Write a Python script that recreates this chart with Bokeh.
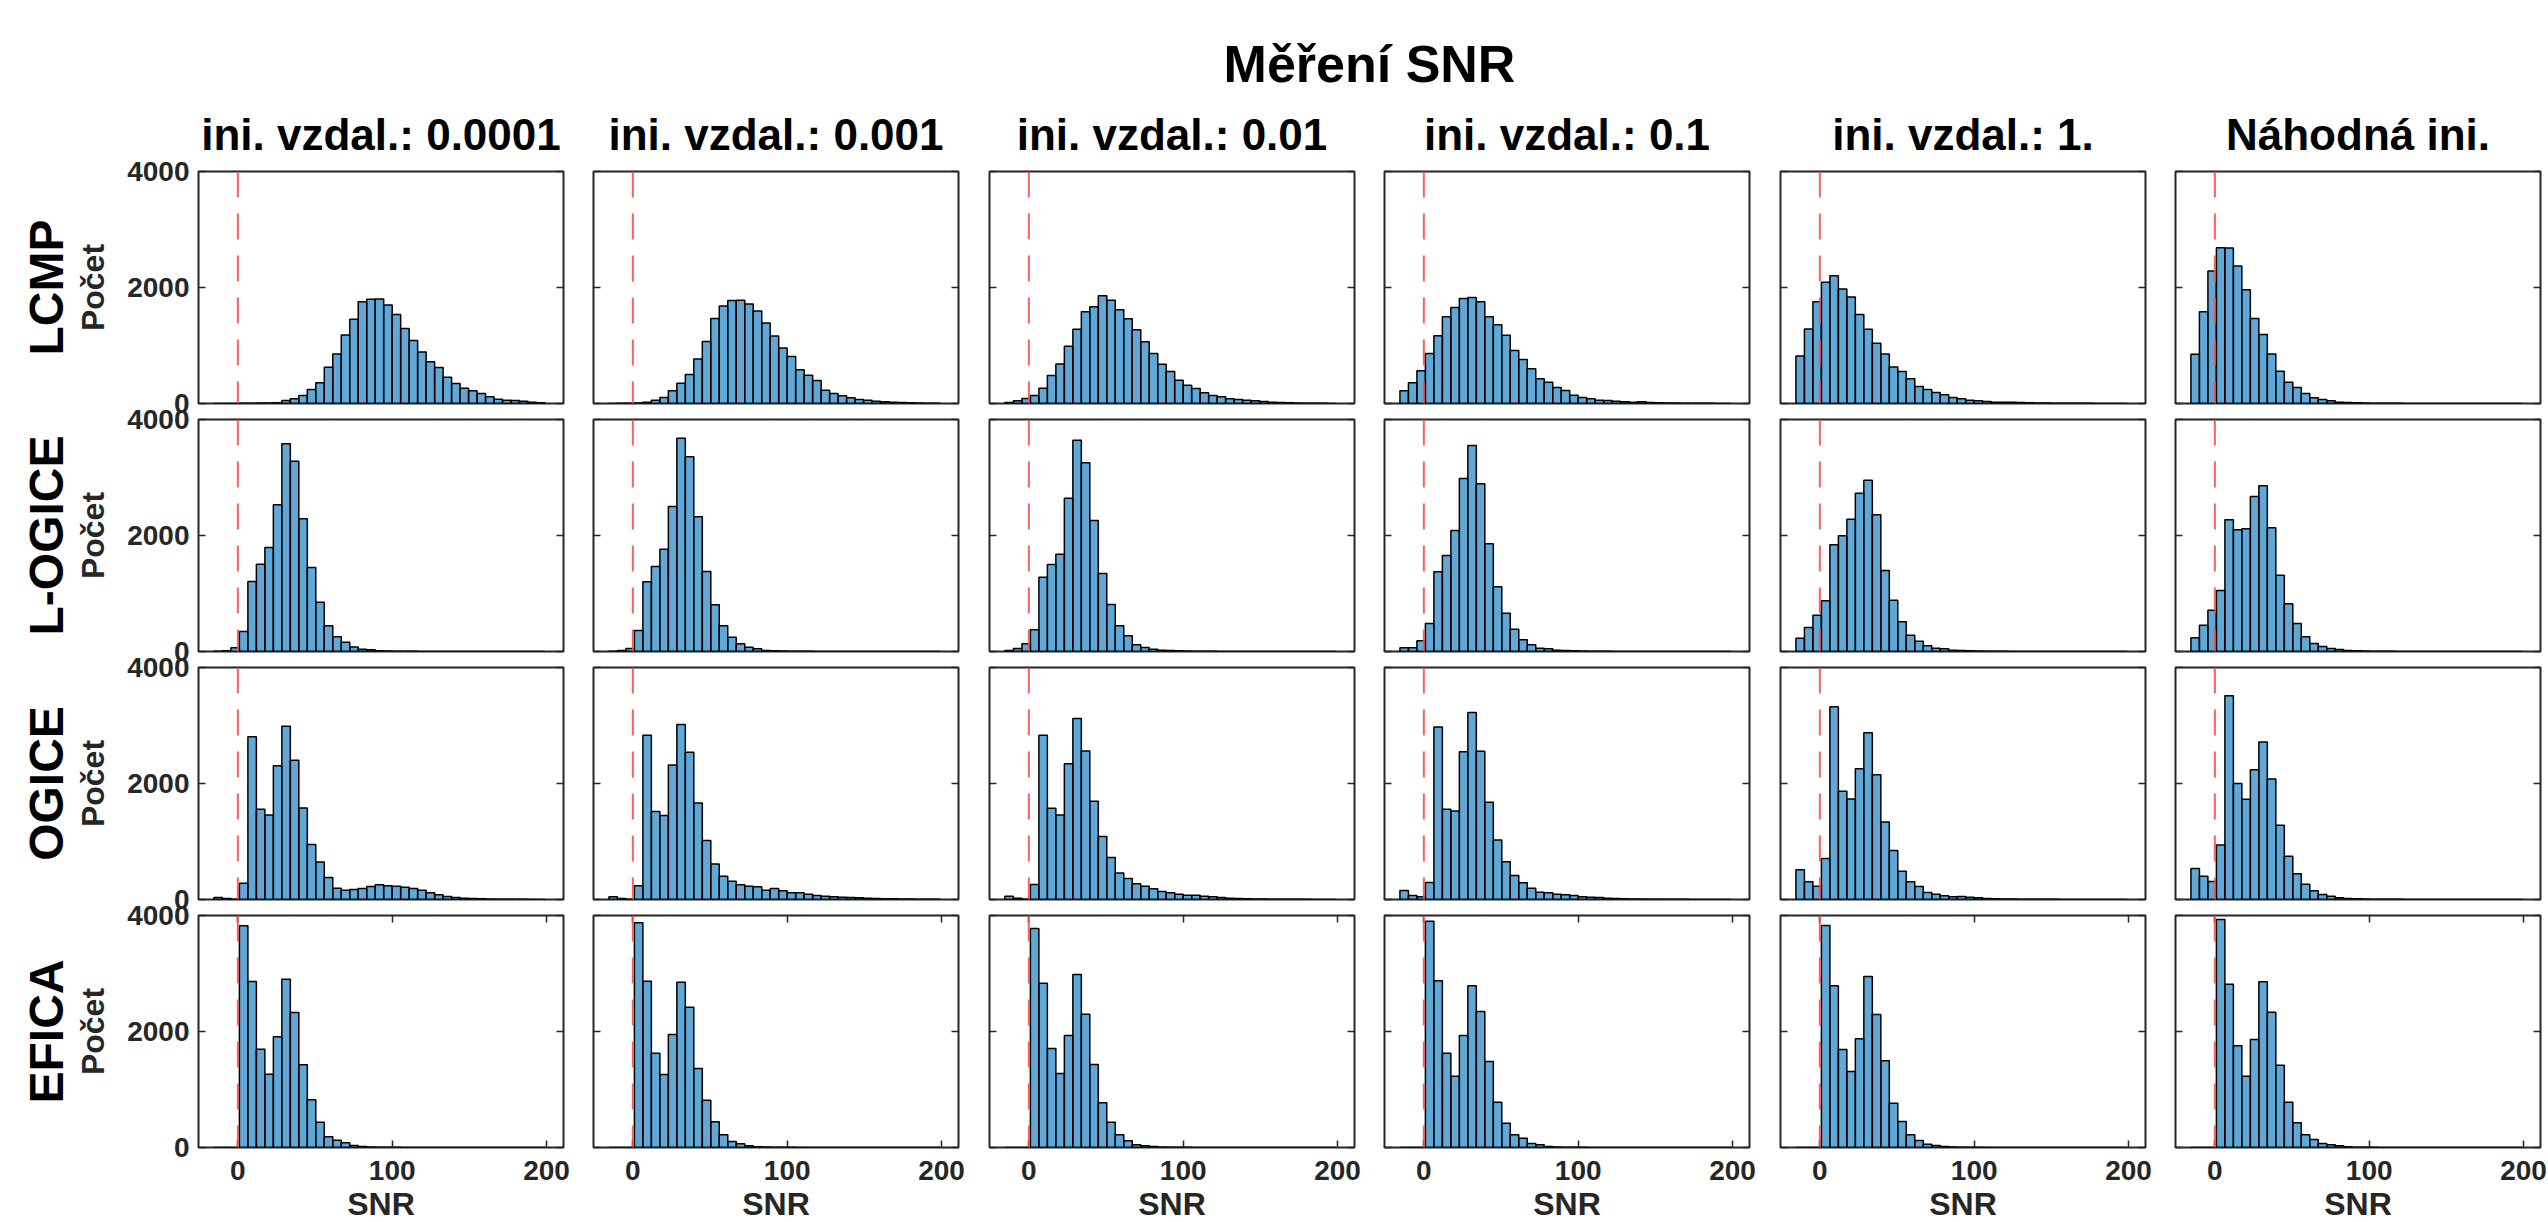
import math
from bokeh.plotting import figure
from bokeh.models import Range1d, FixedTicker, Span, LinearAxis, ColumnDataSource
from bokeh.layouts import column, row
from bokeh.embed import file_html
from bokeh.resources import INLINE

# ---------------- data ----------------
suptitle = "Měření SNR"
col_titles = ["ini. vzdal.: 0.0001", "ini. vzdal.: 0.001", "ini. vzdal.: 0.01",
              "ini. vzdal.: 0.1", "ini. vzdal.: 1.", "Náhodná ini."]
row_names = ["LCMP", "L-OGICE", "OGICE", "EFICA"]
y_label = "Počet"
x_label = "SNR"
x_ticks = [0, 100, 200]
y_ticks = [0, 2000, 4000]
threshold = 0
bin_start = -15.5
bin_width = 5.5

lcmp_c0 = [0, 0, 2, 3, 5, 8, 10, 15, 52, 80, 138, 241, 356, 626, 855, 1182, 1452, 1756, 1797, 1802,
           1699, 1533, 1292, 1085, 890, 718, 620, 453, 344, 264, 218, 172, 115, 75, 57, 52, 40, 23, 11]
lcmp_c1 = [2, 3, 5, 10, 23, 57, 103, 218, 350, 499, 769, 1068, 1464, 1683, 1774, 1780, 1716, 1596, 1389, 1165,
           959, 809, 580, 488, 396, 230, 172, 132, 98, 69, 57, 40, 29, 23, 17, 12, 8, 5, 3]
lcmp_c2 = [17, 46, 86, 138, 264, 482, 683, 988, 1281, 1580, 1666, 1856, 1782, 1615, 1460, 1270, 1063, 862, 678, 552,
           402, 316, 258, 184, 138, 115, 80, 69, 57, 46, 34, 23, 17, 12, 10, 6, 4, 3, 2]
lcmp_c3 = [218, 356, 563, 862, 1166, 1494, 1655, 1810, 1828, 1753, 1494, 1356, 1178, 913, 758, 597, 425, 367, 276, 224,
           144, 103, 80, 57, 52, 40, 29, 23, 29, 17, 12, 10, 8, 6, 5, 4, 3, 2, 2]
lcmp_c4 = [821, 1286, 1756, 2089, 2204, 1975, 1837, 1533, 1281, 1039, 855, 631, 551, 425, 293, 241, 189, 149, 103, 80,
           57, 46, 34, 23, 23, 23, 17, 12, 10, 8, 6, 5, 4, 3, 3, 2, 2, 2, 2]
lcmp_c5 = [850, 1584, 2285, 2686, 2680, 2370, 1963, 1464, 1188, 855, 557, 367, 276, 172, 98, 69, 46, 23, 17, 12,
           8, 6, 5, 4, 3, 2, 2, 1, 1, 1, 1, 1, 1, 1, 1, 1, 0, 0, 0]

logice_c0 = [3, 15, 63, 345, 1207, 1506, 1793, 2529, 3580, 3282, 2287, 1448, 851, 443, 253, 161, 78, 40, 29, 12,
             8, 5, 4, 3, 2, 2, 1, 1, 1, 1, 1, 1, 1, 1, 0, 0, 0, 0, 0]
logice_c1 = [3, 17, 52, 362, 1201, 1465, 1765, 2500, 3678, 3356, 2322, 1379, 805, 443, 247, 132, 75, 46, 17, 12,
             8, 5, 4, 3, 2, 2, 1, 1, 1, 1, 1, 1, 1, 1, 0, 0, 0, 0, 0]
logice_c2 = [17, 52, 132, 374, 1282, 1500, 1678, 2644, 3644, 3253, 2259, 1345, 810, 443, 270, 115, 69, 40, 23, 17,
             12, 8, 6, 5, 3, 2, 2, 1, 1, 1, 1, 1, 1, 1, 0, 0, 0, 0, 0]
logice_c3 = [63, 63, 184, 483, 1374, 1655, 2086, 2983, 3552, 2891, 1856, 1115, 661, 385, 201, 115, 57, 46, 23, 17,
             12, 8, 6, 4, 3, 2, 2, 1, 1, 1, 1, 1, 1, 1, 0, 0, 0, 0, 0]
logice_c4 = [230, 414, 626, 873, 1839, 1994, 2282, 2730, 2954, 2356, 1397, 885, 511, 282, 178, 98, 57, 46, 23, 17,
             12, 8, 6, 4, 3, 2, 2, 1, 1, 1, 1, 1, 1, 1, 0, 0, 0, 0, 0]
logice_c5 = [236, 454, 713, 1052, 2270, 2098, 2115, 2672, 2856, 2132, 1316, 822, 483, 253, 138, 86, 52, 34, 17, 12,
             8, 6, 4, 3, 2, 2, 1, 1, 1, 1, 1, 1, 1, 1, 0, 0, 0, 0, 0]

ogice_c0 = [34, 17, 6, 282, 2807, 1555, 1458, 2307, 2985, 2399, 1578, 950, 645, 380, 195, 161, 172, 190, 224, 253,
            236, 230, 213, 190, 161, 115, 80, 52, 34, 23, 17, 12, 8, 6, 5, 4, 3, 2, 2]
ogice_c1 = [46, 17, 6, 235, 2830, 1516, 1447, 2319, 3019, 2537, 1665, 1016, 614, 402, 316, 253, 230, 218, 161, 189,
            149, 115, 115, 92, 69, 57, 46, 40, 34, 29, 23, 17, 14, 12, 10, 8, 6, 5, 4]
ogice_c2 = [57, 23, 6, 258, 2830, 1573, 1458, 2342, 3122, 2560, 1693, 1085, 723, 459, 362, 270, 230, 184, 138, 115,
            92, 75, 75, 57, 46, 34, 23, 17, 12, 10, 8, 6, 5, 4, 3, 3, 2, 2, 2]
ogice_c3 = [155, 69, 46, 293, 2973, 1556, 1527, 2549, 3226, 2554, 1676, 1027, 649, 413, 287, 195, 126, 115, 92, 80,
            69, 46, 40, 34, 23, 17, 12, 10, 8, 6, 5, 4, 3, 3, 2, 2, 2, 2, 2]
ogice_c4 = [511, 304, 230, 706, 3323, 1866, 1733, 2256, 2876, 2152, 1337, 844, 488, 304, 224, 121, 92, 63, 46, 52,
            40, 29, 17, 12, 10, 8, 6, 5, 4, 3, 3, 2, 2, 2, 1, 1, 1, 1, 1]
ogice_c5 = [534, 402, 310, 941, 3513, 1998, 1728, 2239, 2715, 2078, 1280, 746, 442, 264, 149, 86, 57, 29, 17, 12,
            8, 6, 5, 4, 3, 2, 2, 1, 1, 1, 1, 1, 1, 1, 1, 1, 1, 1, 1]

efica_c0 = [0, 0, 0, 3822, 2862, 1695, 1264, 1908, 2902, 2327, 1425, 822, 437, 184, 126, 80, 34, 17, 10, 6,
            4, 3, 2, 1, 1, 1, 1, 0, 0, 0, 0, 0, 0, 0, 0, 0, 0, 0, 0]
efica_c1 = [0, 0, 0, 3874, 2868, 1626, 1259, 1948, 2851, 2420, 1362, 816, 443, 218, 103, 63, 29, 12, 8, 6,
            4, 3, 2, 1, 1, 1, 1, 0, 0, 0, 0, 0, 0, 0, 0, 0, 0, 0, 0]
efica_c2 = [0, 0, 0, 3776, 2833, 1707, 1276, 1931, 2983, 2299, 1431, 770, 437, 218, 115, 46, 29, 17, 10, 6,
            4, 3, 2, 1, 1, 1, 1, 0, 0, 0, 0, 0, 0, 0, 0, 0, 0, 0, 0]
efica_c3 = [0, 0, 0, 3902, 2873, 1626, 1230, 1931, 2787, 2345, 1483, 782, 420, 218, 161, 69, 46, 17, 10, 6,
            4, 3, 2, 1, 1, 1, 1, 0, 0, 0, 0, 0, 0, 0, 0, 0, 0, 0, 0]
efica_c4 = [0, 0, 0, 3828, 2787, 1690, 1310, 1874, 2948, 2293, 1494, 764, 448, 218, 121, 57, 34, 17, 10, 6,
            4, 3, 2, 1, 1, 1, 1, 0, 0, 0, 0, 0, 0, 0, 0, 0, 0, 0, 0]
efica_c5 = [0, 0, 0, 3931, 2816, 1753, 1230, 1862, 2856, 2333, 1420, 782, 425, 218, 138, 69, 46, 29, 12, 6,
            4, 3, 2, 1, 1, 1, 1, 0, 0, 0, 0, 0, 0, 0, 0, 0, 0, 0, 0]

counts = [
    [lcmp_c0, lcmp_c1, lcmp_c2, lcmp_c3, lcmp_c4, lcmp_c5],
    [logice_c0, logice_c1, logice_c2, logice_c3, logice_c4, logice_c5],
    [ogice_c0, ogice_c1, ogice_c2, ogice_c3, ogice_c4, ogice_c5],
    [efica_c0, efica_c1, efica_c2, efica_c3, efica_c4, efica_c5],
]

# ---------------- style / layout ----------------
FONT = "Liberation Sans"
INK = "#262626"
X0, X1 = -25.5, 211.0
Y0, Y1 = 0, 4000
FW, FH = 365, 232
lefts = [198, 15, 16, 15, 16, 15]
rights = [15, 15, 15, 15, 15, 8]
tops = [76, 20, 20, 20]
bottoms = [20, 20, 20, 76]
row_margin_top = [0, -24, -24, -24]
HEADER_H = 94
TOTAL_W = sum(lefts) + sum(rights) + 6 * FW


def style_axis(ax, ticks, show_labels, tick_in):
    ax.ticker = FixedTicker(ticks=ticks, minor_ticks=[])
    ax.axis_line_color = None
    ax.major_tick_in = tick_in
    ax.major_tick_out = 0
    ax.major_tick_line_color = INK
    ax.major_tick_line_width = 1.5
    ax.minor_tick_line_color = None
    if show_labels:
        ax.major_label_text_font = FONT
        ax.major_label_text_font_size = "28px"
        ax.major_label_text_font_style = "bold"
        ax.major_label_text_color = INK
    else:
        ax.major_label_overrides = {t: "" for t in ticks}
        ax.major_label_text_font_size = "1px"
        ax.major_label_text_color = None
        ax.major_label_standoff = 0


edges = [bin_start + bin_width * k for k in range(len(lcmp_c0) + 1)]

rows = []
for r in range(4):
    figs = []
    for c in range(6):
        bottom_row = (r == 3)
        p = figure(frame_width=FW, frame_height=FH,
                   x_range=Range1d(X0, X1), y_range=Range1d(Y0, Y1),
                   min_border_left=lefts[c], min_border_right=rights[c],
                   min_border_top=tops[r], min_border_bottom=bottoms[r],
                   x_axis_location="below" if bottom_row else None,
                   y_axis_location="left",
                   toolbar_location=None, output_backend="svg")
        p.border_fill_alpha = 0
        p.background_fill_color = "white"
        p.xgrid.visible = False
        p.ygrid.visible = False
        p.outline_line_color = INK
        p.outline_line_width = 2

        if r == 0:
            p.title.text = col_titles[c]
            p.title.align = "center"
            p.title.text_font = FONT
            p.title.text_font_size = "44px"
            p.title.text_font_style = "bold"
            p.title.text_color = "black"
            p.title.standoff = 26

        # left y axis
        ya = p.yaxis[0]
        style_axis(ya, y_ticks, c == 0, 7)
        if c == 0:
            ya.major_label_standoff = 9
            ya.axis_label = y_label
            ya.axis_label_text_font = FONT
            ya.axis_label_text_font_size = "32px"
            ya.axis_label_text_font_style = "bold"
            ya.axis_label_text_color = INK
            ya.axis_label_standoff = 13
            # row name as an outer, tick-less axis label
            na = LinearAxis(ticker=FixedTicker(ticks=[]))
            na.axis_line_color = None
            na.major_tick_in = 0
            na.major_tick_out = 0
            na.minor_tick_line_color = None
            na.major_label_standoff = 0
            na.axis_label = row_names[r]
            na.axis_label_text_font = FONT
            na.axis_label_text_font_size = "48px"
            na.axis_label_text_font_style = "bold"
            na.axis_label_text_color = "black"
            na.axis_label_standoff = 0
            p.add_layout(na, "left")
        # right y axis (box ticks)
        ra = LinearAxis()
        style_axis(ra, y_ticks, False, 7)
        p.add_layout(ra, "right")

        if bottom_row:
            xa = p.xaxis[0]
            style_axis(xa, x_ticks, True, 7)
            xa.major_label_standoff = 13
            xa.axis_label = x_label
            xa.axis_label_text_font = FONT
            xa.axis_label_text_font_size = "32px"
            xa.axis_label_text_font_style = "bold"
            xa.axis_label_text_color = INK
            xa.axis_label_standoff = 3
            ta = LinearAxis()
            style_axis(ta, x_ticks, False, 7)
            p.add_layout(ta, "above")

        vals = counts[r][c]
        src = ColumnDataSource(dict(left=edges[:-1], right=edges[1:],
                                    top=vals, bottom=[0] * len(vals)))
        p.quad(left="left", right="right", top="top", bottom="bottom", source=src,
               fill_color="#0072BD", fill_alpha=0.62, line_color="black", line_width=1.5)

        p.add_layout(Span(location=threshold, dimension="height", line_color="#FF4D4D",
                          line_alpha=0.9, line_width=2, line_dash="26 16"))
        figs.append(p)
    rows.append(row(*figs, margin=(row_margin_top[r], 0, 0, 0)))

header = figure(width=TOTAL_W, height=HEADER_H, x_range=Range1d(0, 1), y_range=Range1d(0, 1),
                min_border_left=lefts[0], min_border_right=rights[-1], min_border_bottom=0,
                min_border_top=HEADER_H - 2,
                x_axis_location=None, y_axis_location=None,
                toolbar_location=None, output_backend="svg")
header.outline_line_color = None
header.border_fill_alpha = 0
header.xgrid.visible = False
header.ygrid.visible = False
header.title.text = suptitle
header.title.align = "center"
header.title.text_font = FONT
header.title.text_font_size = "52px"
header.title.text_font_style = "bold"
header.title.text_color = "black"
header.title.standoff = 0

layout = column(header, *rows)
open("out.html", "w").write(file_html(layout, INLINE))
